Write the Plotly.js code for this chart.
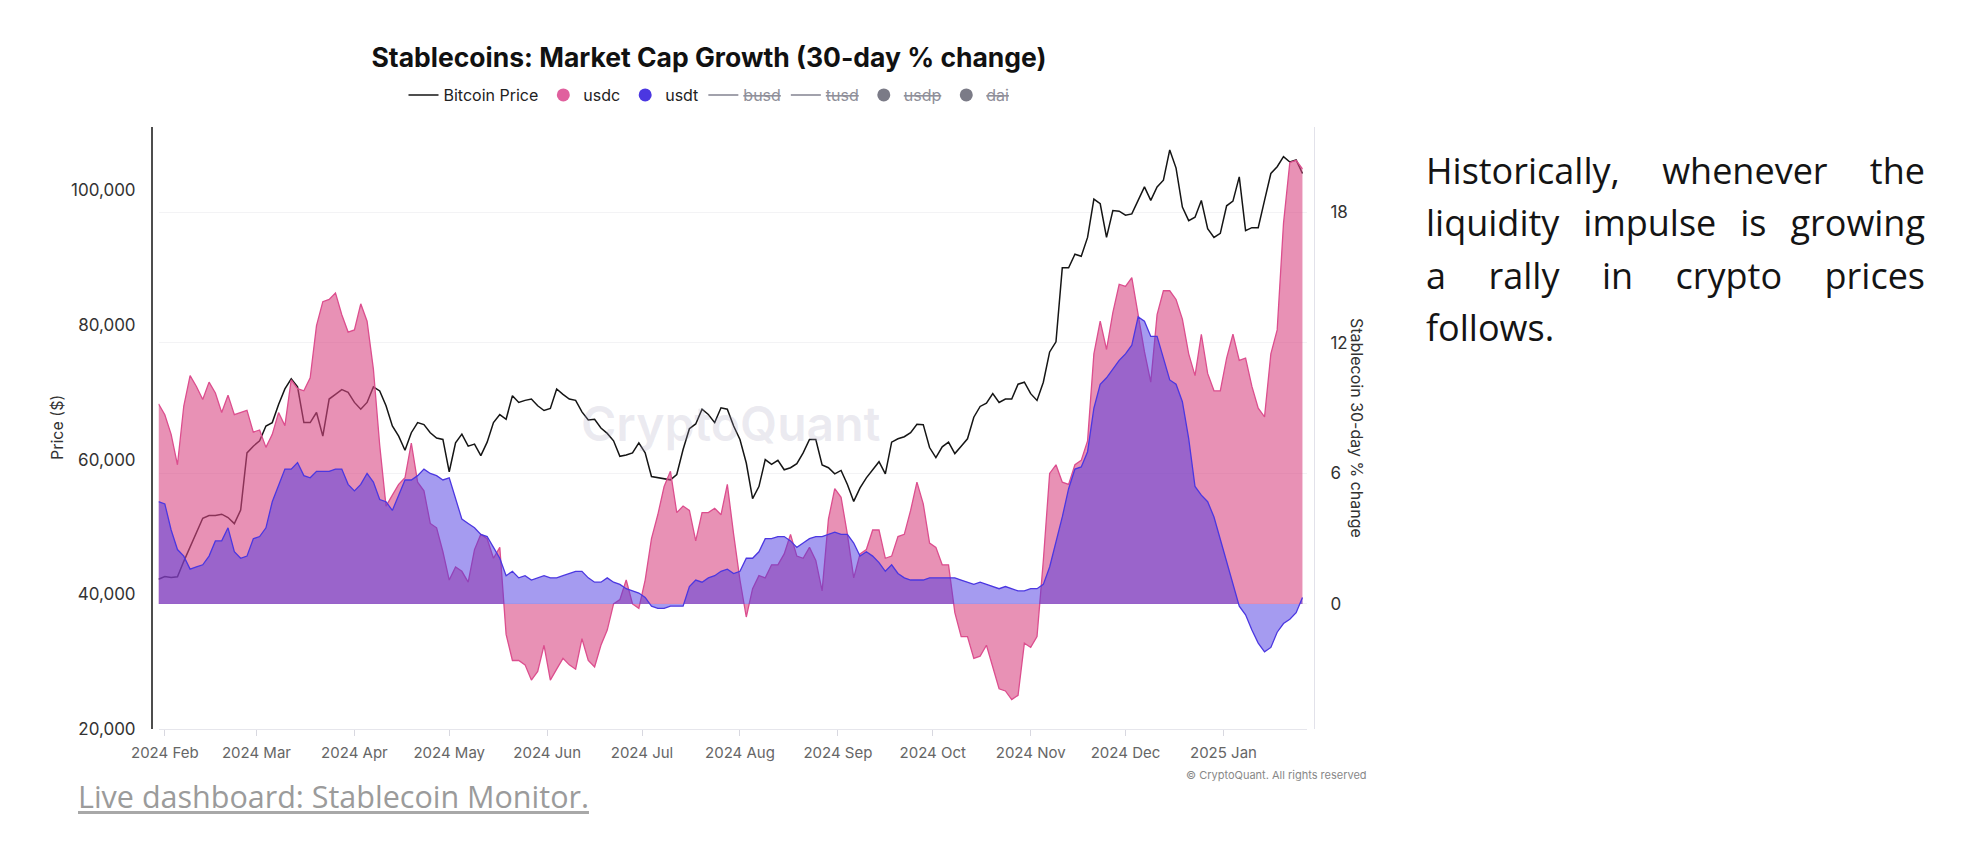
<!DOCTYPE html>
<html>
<head>
<meta charset="utf-8">
<script src="https://cdn.plot.ly/plotly-3.0.1.min.js"></script>
<style>
  html, body { margin:0; padding:0; background:#fff; width:1966px; height:848px; overflow:hidden; }
  #chart { position:absolute; left:0; top:0; width:1966px; height:848px; }
  #para { position:absolute; left:1426px; top:145px; width:499px; font-family:'Open Sans', sans-serif; font-size:36px; line-height:52.3px; color:#141414; }
  #para div { text-align:justify; text-align-last:justify; white-space:nowrap; }
  #para div.last { text-align:left; text-align-last:left; }
  #link { position:absolute; left:78px; top:781px; font-family:'Open Sans', sans-serif; font-size:30.5px; line-height:30px; color:#9b9b9b; text-decoration:underline; text-decoration-color:#a8a8a8; text-underline-offset:3px; white-space:nowrap; }
</style>
</head>
<body>
<div id="chart"></div>
<div id="para">
  <div>Historically, whenever the</div>
  <div>liquidity impulse is growing</div>
  <div>a rally in crypto prices</div>
  <div class="last">follows.</div>
</div>
<div id="link">Live dashboard: Stablecoin Monitor.</div>
<script>
// ---- data (one value every 2 days starting 2024-01-30) ----
const startDate = '2024-01-30';
const stepDays = 2;

const btcPrice = [
  42240,42650,42500,42600,44900,47000,49000,51300,51700,51700,
  51900,51400,50500,52500,61000,62000,62800,65000,65500,68200,
  70500,72000,70800,65500,65500,67000,63500,69000,69700,70400,
  70000,68500,67500,68500,70800,70200,68000,65000,63500,61400,
  64000,65500,65200,64000,63200,63000,58200,62500,63800,62000,
  62300,60600,62600,65500,66700,66000,69500,68500,68800,69000,
  68000,67300,67600,70500,69700,69000,68800,67100,65900,66000,
  64700,63900,62800,60500,60700,61000,62500,61000,57500,57300,
  57200,57000,57800,61500,64600,65300,67500,66700,65500,67700,
  67500,65000,63000,59500,54200,56000,60000,59300,59900,58500,
  58800,59400,61000,63000,63000,59200,58800,57900,58400,56300,
  53800,55800,57300,58500,59700,57900,62600,63100,63400,64000,
  65250,65200,61800,60300,61900,62600,60900,62000,63100,66300,
  67900,68400,69800,68500,69000,69000,71200,71500,69800,68800,
  71500,76000,77500,88500,88500,90500,90200,93000,98700,98000,
  93000,97000,96900,96300,96500,98500,100500,98500,100500,101500,
  106000,103300,97500,95500,96000,98500,94300,93000,93600,97700,
  98400,102000,94000,94450,94450,98500,102500,103500,105000,104200,
  104500,102500
];

const usdcChange = [
  9.2,8.7,7.8,6.4,9.1,10.5,10.0,9.4,10.2,9.7,
  8.8,9.6,8.7,8.8,8.9,7.9,8.0,7.2,7.8,8.8,
  8.2,10.3,9.9,9.8,10.4,12.8,13.9,14.0,14.3,13.3,
  12.5,12.6,13.8,13.0,10.8,7.3,4.5,5.0,5.5,5.8,
  7.4,5.6,5.2,3.7,3.5,2.4,1.1,1.7,1.5,1.0,
  2.5,3.2,3.0,2.1,2.6,-1.4,-2.6,-2.6,-2.8,-3.5,
  -3.1,-1.9,-3.5,-3.0,-2.5,-2.8,-3.0,-1.6,-2.6,-2.9,
  -1.9,-1.2,0.0,0.2,1.1,0.0,-0.2,1.1,3.0,4.1,
  5.4,6.1,4.2,4.5,4.3,2.9,4.2,4.2,4.4,4.1,
  5.5,3.2,1.1,-0.6,0.7,1.3,1.2,1.8,1.8,2.3,
  3.2,2.2,2.1,2.6,2.0,0.6,3.9,5.3,4.9,3.2,
  1.2,2.3,2.5,3.4,3.4,2.1,2.2,3.1,3.2,4.3,
  5.6,4.6,2.8,2.6,1.8,1.8,-0.4,-1.5,-1.5,-2.5,
  -2.4,-1.9,-2.9,-3.9,-4.0,-4.4,-4.2,-1.8,-2.0,-1.5,
  2.0,6.0,6.4,5.6,5.5,6.4,6.6,7.5,11.5,13.0,
  11.7,13.4,14.7,14.6,15.0,13.3,11.6,10.2,13.3,14.4,
  14.4,14.0,13.1,11.5,10.5,12.4,10.6,9.8,9.8,11.3,
  12.4,11.2,11.3,10.0,9.0,8.6,11.5,12.6,17.5,20.3,
  20.4,20.0
];

const usdtChange = [
  4.7,4.6,3.4,2.5,2.2,1.6,1.7,1.8,2.2,2.9,
  2.9,3.5,2.4,2.1,2.2,3.0,3.1,3.5,4.7,5.5,
  6.2,6.2,6.5,5.9,5.8,6.1,6.1,6.1,6.2,6.2,
  5.5,5.2,5.5,6.0,5.6,4.8,4.7,4.3,5.0,5.7,
  5.7,5.9,6.2,6.0,5.9,5.7,5.8,4.8,3.9,3.7,
  3.5,3.2,3.1,2.6,2.1,1.3,1.5,1.2,1.3,1.1,
  1.2,1.3,1.2,1.2,1.3,1.4,1.5,1.5,1.2,1.0,
  1.0,1.2,1.0,0.9,0.7,0.6,0.5,0.3,-0.1,-0.2,
  -0.2,-0.1,-0.1,-0.1,0.8,1.1,1.0,1.2,1.3,1.5,
  1.6,1.4,1.5,2.1,2.1,2.4,3.0,3.0,3.1,3.1,
  2.9,2.6,2.8,3.0,3.1,3.1,3.2,3.3,3.2,3.2,
  2.8,2.2,2.4,2.2,1.9,1.5,1.8,1.4,1.2,1.1,
  1.1,1.1,1.2,1.2,1.2,1.2,1.2,1.1,1.0,0.9,
  1.0,0.9,0.8,0.7,0.8,0.7,0.6,0.6,0.7,0.7,
  0.9,1.7,2.8,4.0,5.3,6.2,6.3,7.0,9.0,10.1,
  10.4,10.8,11.2,11.5,11.9,13.2,13.0,12.3,12.3,11.3,
  10.3,10.1,9.3,7.6,5.4,5.0,4.7,4.0,3.0,1.9,
  0.9,-0.1,-0.5,-1.2,-1.8,-2.2,-2.0,-1.3,-0.9,-0.7,
  -0.4,0.3
];

const monthTicks  = ['2024-02-01','2024-03-01','2024-04-01','2024-05-01','2024-06-01','2024-07-01',
                     '2024-08-01','2024-09-01','2024-10-01','2024-11-01','2024-12-01','2025-01-01'];
const monthLabels = ['2024 Feb','2024 Mar','2024 Apr','2024 May','2024 Jun','2024 Jul',
                     '2024 Aug','2024 Sep','2024 Oct','2024 Nov','2024 Dec','2025 Jan'];
const priceTicks  = [20000, 40000, 60000, 80000, 100000];
const changeTicks = [0, 6, 12, 18];
const legendOff   = ['busd', 'tusd', 'usdp', 'dai'];

// ---- build ----
const dates = btcPrice.map((_, i) => {
  const d = new Date(startDate + 'T00:00:00Z');
  d.setUTCDate(d.getUTCDate() + i * stepDays);
  return d.toISOString().slice(0, 10);
});

const offName = n => '<span style="color:#8f8f99;text-decoration:line-through">' + n + '</span>';

const traces = [
  { name:'Bitcoin Price', x:dates, y:btcPrice, yaxis:'y', type:'scatter', mode:'lines',
    line:{color:'#151515', width:1.5}, showlegend:true, hoverinfo:'skip' },
  { name:'usdc', x:dates, y:usdcChange, yaxis:'y2', type:'scatter', mode:'lines', fill:'tozeroy',
    fillcolor:'rgba(217,72,132,0.6)', line:{color:'#DC4E8E', width:1.3}, showlegend:false, hoverinfo:'skip' },
  { name:'usdt', x:dates, y:usdtChange, yaxis:'y2', type:'scatter', mode:'lines', fill:'tozeroy',
    fillcolor:'rgba(75,55,225,0.5)', line:{color:'#4B37E1', width:1.3}, showlegend:false, hoverinfo:'skip' },
  // legend entries
  { name:'usdc', x:[dates[0]], y:[null], yaxis:'y2', type:'scatter', mode:'markers',
    marker:{color:'#E0609E', size:13}, showlegend:true, hoverinfo:'skip' },
  { name:'usdt', x:[dates[0]], y:[null], yaxis:'y2', type:'scatter', mode:'markers',
    marker:{color:'#4B37E1', size:13}, showlegend:true, hoverinfo:'skip' },
  { name:offName(legendOff[0]), x:[dates[0]], y:[null], yaxis:'y2', type:'scatter', mode:'lines',
    line:{color:'#a2a2ac', width:2}, showlegend:true, hoverinfo:'skip' },
  { name:offName(legendOff[1]), x:[dates[0]], y:[null], yaxis:'y2', type:'scatter', mode:'lines',
    line:{color:'#a2a2ac', width:2}, showlegend:true, hoverinfo:'skip' },
  { name:offName(legendOff[2]), x:[dates[0]], y:[null], yaxis:'y2', type:'scatter', mode:'markers',
    marker:{color:'#7b7b87', size:13}, showlegend:true, hoverinfo:'skip' },
  { name:offName(legendOff[3]), x:[dates[0]], y:[null], yaxis:'y2', type:'scatter', mode:'markers',
    marker:{color:'#7b7b87', size:13}, showlegend:true, hoverinfo:'skip' }
];

const W = 1966, H = 848;
const plotL = 152, plotR = 1314, plotT = 127, plotB = 729;
const pw = plotR - plotL, ph = plotB - plotT;
const px = v => (v - plotL) / pw;
const py = v => (plotB - v) / ph;

const layout = {
  width: W, height: H,
  margin: {l: plotL, r: W - plotR, t: plotT, b: H - plotB, pad: 0},
  paper_bgcolor: '#ffffff',
  plot_bgcolor: 'rgba(0,0,0,0)',
  font: {family: 'Inter, Roboto, sans-serif', color: '#333', size: 15},
  title: {
    text: 'Stablecoins: Market Cap Growth (30-day % change)',
    xref: 'container', x: 709 / W, xanchor: 'center',
    yref: 'container', y: 1 - 58 / H, yanchor: 'middle',
    font: {family: 'Inter, Roboto, sans-serif', size: 26.5, weight: 700, color: '#111'}
  },
  showlegend: true,
  legend: {
    orientation: 'h', xref: 'container', x: 709 / W, xanchor: 'center',
    yref: 'container', y: 1 - 95 / H, yanchor: 'middle',
    font: {size: 16, color: '#222'}, itemwidth: 30, bgcolor: 'rgba(0,0,0,0)',
    traceorder: 'normal'
  },
  xaxis: {
    type: 'date',
    domain: [px(158.5), px(1307.2)],
    range: ['2024-01-30', '2025-01-27 12:00'],
    tickvals: monthTicks, ticktext: monthLabels,
    ticks: 'outside', ticklen: 6, tickcolor: '#d8d8e0', tickwidth: 1,
    showline: true, linecolor: '#e6e6ec', linewidth: 1,
    showgrid: false, zeroline: false,
    tickfont: {size: 15, color: '#666'},
    ticklabelstandoff: 4
  },
  yaxis: {
    anchor: 'free', position: 0,
    range: [20000, 109400],
    tickvals: priceTicks, tickformat: ',d',
    showline: true, linecolor: '#4d4d4d', linewidth: 2,
    showgrid: false, zeroline: false, ticks: '',
    tickfont: {size: 17, color: '#333'},
    ticklabelstandoff: 12
  },
  yaxis2: {
    overlaying: 'y', side: 'right', anchor: 'free', position: 1,
    range: [-5.75, 21.93],
    tickvals: changeTicks,
    showline: true, linecolor: '#e2e2ea', linewidth: 1,
    showgrid: true, gridcolor: '#f3f3f5', gridwidth: 1,
    zeroline: false, ticks: '',
    tickfont: {size: 17, color: '#333'},
    ticklabelstandoff: 12
  },
  annotations: [
    { text: 'CryptoQuant', xref: 'paper', yref: 'paper', x: px(730), y: py(423),
      showarrow: false, xanchor: 'center', yanchor: 'middle',
      font: {family: 'Inter, Roboto, sans-serif', size: 48, weight: 600, color: 'rgba(165,160,190,0.22)'} },
    { text: 'Price ($)', xref: 'paper', yref: 'paper', x: px(57), y: 0.5, textangle: -90,
      showarrow: false, xanchor: 'center', yanchor: 'middle',
      font: {size: 16, color: '#333'} },
    { text: 'Stablecoin 30-day % change', xref: 'paper', yref: 'paper', x: px(1357), y: 0.5, textangle: 90,
      showarrow: false, xanchor: 'center', yanchor: 'middle',
      font: {size: 16, color: '#333'} },
    { text: '© CryptoQuant. All rights reserved', xref: 'paper', yref: 'paper', x: px(1369), y: py(775),
      showarrow: false, xanchor: 'right', yanchor: 'middle',
      font: {size: 11, color: '#888'} }
  ]
};

Plotly.newPlot('chart', traces, layout, {displayModeBar: false, staticPlot: true});
</script>
</body>
</html>
